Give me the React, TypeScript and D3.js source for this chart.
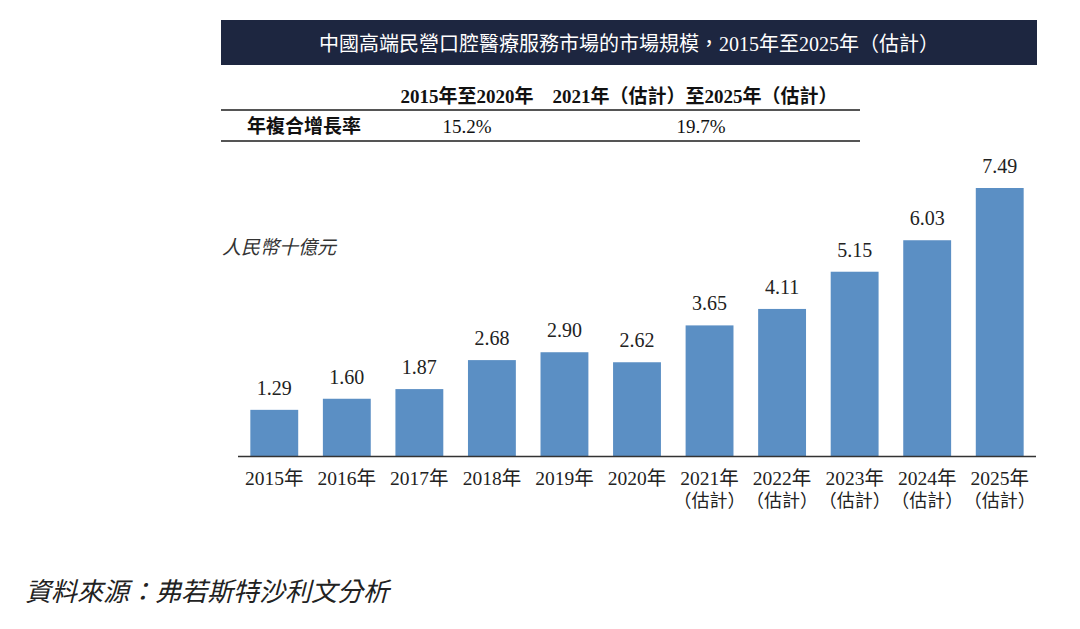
import React, { useRef, useEffect } from 'react';
import * as d3 from 'd3';

const years = ['2015年', '2016年', '2017年', '2018年', '2019年', '2020年', '2021年', '2022年', '2023年', '2024年', '2025年'];
const estimated = [false, false, false, false, false, false, true, true, true, true, true];
const marketSize = [1.29, 1.6, 1.87, 2.68, 2.9, 2.62, 3.65, 4.11, 5.15, 6.03, 7.49];

const cagrPeriods = ['2015年至2020年', '2021年（估計）至2025年（估計）'];
const cagrValues = ['15.2%', '19.7%'];

const title = '中國高端民營口腔醫療服務市場的市場規模，2015年至2025年（估計）';
const unitLabel = '人民幣十億元';
const sourceLabel = '資料來源：弗若斯特沙利文分析';

const serif = '"Liberation Serif", "Noto Sans CJK TC", serif';

const App: React.FC = () => {
  const svgRef = useRef<SVGSVGElement | null>(null);

  useEffect(() => {
    if (!svgRef.current) return;
    const svg = d3.select(svgRef.current);
    svg.selectAll('*').remove();

    // title banner
    svg.append('rect')
      .attr('x', 221).attr('y', 20)
      .attr('width', 816).attr('height', 45)
      .attr('fill', '#1d2640');
    svg.append('text')
      .attr('x', 629).attr('y', 51)
      .attr('text-anchor', 'middle')
      .attr('fill', '#fff')
      .style('font-family', serif)
      .style('font-size', '20px')
      .text(title);

    // CAGR table
    const colX = [467, 695];
    const valX = [467, 701];
    svg.selectAll('.cagr-head')
      .data(cagrPeriods)
      .enter().append('text')
      .attr('x', (d, i) => colX[i]).attr('y', 103)
      .attr('text-anchor', 'middle')
      .style('font-family', serif)
      .style('font-size', '19px')
      .style('font-weight', 'bold')
      .attr('fill', '#111')
      .text(d => d);
    svg.append('text')
      .attr('x', 247).attr('y', 133)
      .style('font-family', serif)
      .style('font-size', '19px')
      .style('font-weight', 'bold')
      .attr('fill', '#111')
      .text('年複合增長率');
    svg.selectAll('.cagr-val')
      .data(cagrValues)
      .enter().append('text')
      .attr('x', (d, i) => valX[i]).attr('y', 133)
      .attr('text-anchor', 'middle')
      .style('font-family', serif)
      .style('font-size', '19px')
      .attr('fill', '#111')
      .text(d => d);
    [110, 141].forEach(y => {
      svg.append('line')
        .attr('x1', 221).attr('x2', 860)
        .attr('y1', y).attr('y2', y)
        .attr('stroke', '#555').attr('stroke-width', 2);
    });

    // bars
    const x = d3.scaleBand<string>()
      .domain(years)
      .range([238, 1036])
      .paddingInner(0.34)
      .paddingOuter(0.17);
    const y = d3.scaleLinear()
      .domain([0, 7.49])
      .range([456, 188]);

    svg.selectAll('.bar')
      .data(marketSize)
      .enter().append('rect')
      .attr('x', (d, i) => x(years[i])!)
      .attr('y', d => y(d))
      .attr('width', x.bandwidth())
      .attr('height', d => y(0) - y(d))
      .attr('fill', '#5b8fc4');

    svg.selectAll('.bar-label')
      .data(marketSize)
      .enter().append('text')
      .attr('x', (d, i) => x(years[i])! + x.bandwidth() / 2)
      .attr('y', d => y(d) - 15)
      .attr('text-anchor', 'middle')
      .style('font-family', serif)
      .style('font-size', '20px')
      .attr('fill', '#222')
      .text(d => d.toFixed(2));

    svg.append('line')
      .attr('x1', 238).attr('x2', 1036)
      .attr('y1', 456.5).attr('y2', 456.5)
      .attr('stroke', '#333').attr('stroke-width', 1.5);

    const ticks = svg.selectAll('.tick')
      .data(years)
      .enter().append('g')
      .attr('transform', d => `translate(${x(d)! + x.bandwidth() / 2},0)`);
    ticks.append('text')
      .attr('y', 485)
      .attr('text-anchor', 'middle')
      .style('font-family', serif)
      .style('font-size', '19.5px')
      .attr('fill', '#222')
      .text(d => d);
    ticks.filter((d, i) => estimated[i]).append('text')
      .attr('y', 507)
      .attr('text-anchor', 'middle')
      .style('font-family', serif)
      .style('font-size', '18px')
      .attr('fill', '#222')
      .text('（估計）');

    // unit & source
    svg.append('text')
      .attr('x', 222).attr('y', 254)
      .style('font-family', serif)
      .style('font-size', '19px')
      .style('font-style', 'italic')
      .attr('fill', '#333')
      .text(unitLabel);
    svg.append('text')
      .attr('x', 25).attr('y', 601)
      .style('font-family', serif)
      .style('font-size', '26px')
      .style('font-style', 'italic')
      .attr('fill', '#222')
      .text(sourceLabel);
  }, []);

  return (
    <svg ref={svgRef} width={1080} height={629}
      style={{ position: 'absolute', left: 0, top: 0, background: '#fff' }} />
  );
};

export default App;
